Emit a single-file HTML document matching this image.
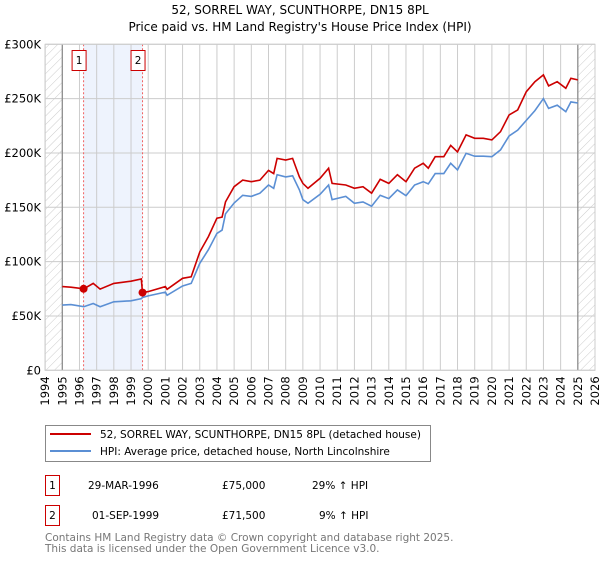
<!DOCTYPE html>
<html><head><meta charset="utf-8"><style>
body{margin:0;background:#fff;font-family:"DejaVu Sans","Liberation Sans",sans-serif;}
svg text{font-family:"DejaVu Sans","Liberation Sans",sans-serif;}
</style></head><body>
<svg id="chart" width="600" height="560">
<defs><pattern id="hatch" width="6" height="6" patternUnits="userSpaceOnUse" patternTransform="rotate(45)"><line x1="0" y1="0" x2="0" y2="6" stroke="#ccc" stroke-width="1"/></pattern></defs>
<text x="300" y="14" text-anchor="middle" font-size="12">52, SORREL WAY, SCUNTHORPE, DN15 8PL</text>
<text x="300" y="31" text-anchor="middle" font-size="12">Price paid vs. HM Land Registry's House Price Index (HPI)</text>
<g id="plot"></g>
<g>
<rect x="45.5" y="425.5" width="385" height="36" fill="#fff" stroke="#888"/>
<line x1="50" y1="434" x2="91" y2="434" stroke="#cc0000" stroke-width="2"/>
<text x="100" y="438" font-size="10.5">52, SORREL WAY, SCUNTHORPE, DN15 8PL (detached house)</text>
<line x1="50" y1="451" x2="91" y2="451" stroke="#5b8fd4" stroke-width="2"/>
<text x="100" y="455" font-size="10.5">HPI: Average price, detached house, North Lincolnshire</text>
</g>
<g font-size="10.5">
<rect x="45.5" y="475.5" width="14" height="20" fill="#fff" stroke="#cc0000"/>
<text x="52.5" y="489" text-anchor="middle">1</text>
<text x="88" y="489">29-MAR-1996</text>
<text x="222" y="489">£75,000</text>
<text x="312" y="489">29% ↑ HPI</text>
<rect x="45.5" y="505.5" width="14" height="20" fill="#fff" stroke="#cc0000"/>
<text x="52.5" y="519" text-anchor="middle">2</text>
<text x="92" y="519">01-SEP-1999</text>
<text x="222" y="519">£71,500</text>
<text x="319" y="519">9% ↑ HPI</text>
</g>
<text x="45" y="541" font-size="10.5" fill="#777">Contains HM Land Registry data © Crown copyright and database right 2025.</text>
<text x="45" y="552" font-size="10.5" fill="#777">This data is licensed under the Open Government Licence v3.0.</text>
</svg>
<script>
const dates=[1995,1995.5,1996.25,1996.8,1997.2,1998,1998.5,1999,1999.6,1999.67,2000,2001,2001.1,2002,2002.5,2003,2003.5,2004,2004.3,2004.5,2005,2005.5,2006,2006.5,2007,2007.3,2007.5,2008,2008.4,2008.8,2009,2009.3,2010,2010.5,2010.7,2011.5,2012,2012.5,2013,2013.5,2014,2014.5,2015,2015.5,2016,2016.3,2016.7,2017.2,2017.6,2018,2018.5,2019,2019.5,2020,2020.5,2021,2021.5,2022,2022.5,2023,2023.3,2023.8,2024.3,2024.6,2025];
const priceK=[77,76.5,75,80,74.7,80,81,82,84,71.5,72.4,77,74.5,84.7,86,109,123,140,141,155,169,175,173.6,175,184,181,195,193.5,195,178,172,167.5,176.7,186,172,170.5,167.5,169,163,175.8,172,180,173.6,186,190.5,186,196.6,196.6,207,201,216.6,213.5,213.5,212,219.6,235,239.6,256.4,265.6,271.8,261.7,265.6,259.5,268.7,267.2];
const hpiK=[60,60.5,58.5,61.5,58.5,63,63.5,64,66,67,68.5,72,69,77.6,80,98.5,111,126,129,144,154,161,160,163,170.5,167.5,180,178,179,166,157,153.7,162,170.5,157,160,153.7,155,151,161,158,166,160.7,170.5,173.6,171.5,181,181,190.5,184.4,199.7,197,197,196.6,202.8,215.6,221,230,239,250,241,244,238,247,246];
const yTicks=[0,50,100,150,200,250,300];
const yTickLabels=["£0","£50K","£100K","£150K","£200K","£250K","£300K"];
const xTicks=[1994,1995,1996,1997,1998,1999,2000,2001,2002,2003,2004,2005,2006,2007,2008,2009,2010,2011,2012,2013,2014,2015,2016,2017,2018,2019,2020,2021,2022,2023,2024,2025,2026];
const saleDates=[1996.24,1999.67];
const saleValues=[75,71.5];
const saleLabels=["1","2"];

const NS="http://www.w3.org/2000/svg";
const X0=45.1,X1=595,Y0=370.3,Y1=44.3;
const sx=v=>X0+(v-1994)*(X1-X0)/32;
const sy=v=>Y0-(v/300)*(Y0-Y1);
const plot=document.getElementById('plot');
function mk(tag,attrs,parent){const e=document.createElementNS(NS,tag);for(const k in attrs)e.setAttribute(k,attrs[k]);(parent||plot).appendChild(e);return e;}

const bg=mk('rect',{x:X0,y:Y1,width:X1-X0,height:Y0-Y1,fill:'#fff'});


const shade=mk('rect',{x:sx(saleDates[0]),y:Y1,width:sx(saleDates[1])-sx(saleDates[0]),height:Y0-Y1,fill:'#eef3fd'});


const h1=mk('rect',{x:X0,y:Y1,width:sx(1995)-X0,height:Y0-Y1,fill:'url(#hatch)'});


const h2=mk('rect',{x:sx(2025),y:Y1,width:X1-sx(2025),height:Y0-Y1,fill:'url(#hatch)'});



yTicks.forEach((t,i)=>{
  const g=mk('line',{x1:X0,x2:X1,y1:sy(t),y2:sy(t),stroke:'#ccc','stroke-width':1});
  
  
  const l=mk('text',{x:41,y:sy(t)+4,'text-anchor':'end','font-size':11.5});
  l.textContent=yTickLabels[i];
  
  
});
xTicks.forEach(t=>{
  const g=mk('line',{x1:sx(t),x2:sx(t),y1:Y1,y2:Y0,stroke:'#ccc','stroke-width':1});
  
  
  const l=mk('text',{x:0,y:0,'text-anchor':'end','font-size':11.5,transform:`translate(${sx(t)+4},${Y0+6}) rotate(-90)`});
  l.textContent=t;
  
  
});
[1995,2025].forEach(t=>{
  const b=mk('line',{x1:sx(t),x2:sx(t),y1:Y1,y2:Y0,stroke:'#888','stroke-width':1.2});
  
  
});
saleDates.forEach((d,i)=>{
  const l=mk('line',{x1:sx(d),x2:sx(d),y1:Y1,y2:Y0,stroke:'#f06060','stroke-width':1,'stroke-dasharray':'2,2'});
  
  
  const r=mk('rect',{x:sx(d)-11.5,y:50.5,width:14,height:20,fill:'#fff',stroke:'#cc0000'});
  
  
  const t=mk('text',{x:sx(d)-4.5,y:64,'text-anchor':'middle','font-size':10.5});
  t.textContent=saleLabels[i];
  
  
});
const pts=a=>dates.map((d,i)=>sx(d).toFixed(1)+','+sy(a[i]).toFixed(1)).join(' ');
const hl=mk('polyline',{points:pts(hpiK),fill:'none',stroke:'#5b8fd4','stroke-width':1.6});


const pl=mk('polyline',{points:pts(priceK),fill:'none',stroke:'#cc0000','stroke-width':1.6});


saleDates.forEach((d,i)=>{
  const c=mk('circle',{cx:sx(d),cy:sy(saleValues[i]),r:4,fill:'#cc0000'});
  
  
});
const fr=mk('rect',{x:X0,y:Y1,width:X1-X0,height:Y0-Y1,fill:'none',stroke:'#ccc'});


</script>
</body></html>
